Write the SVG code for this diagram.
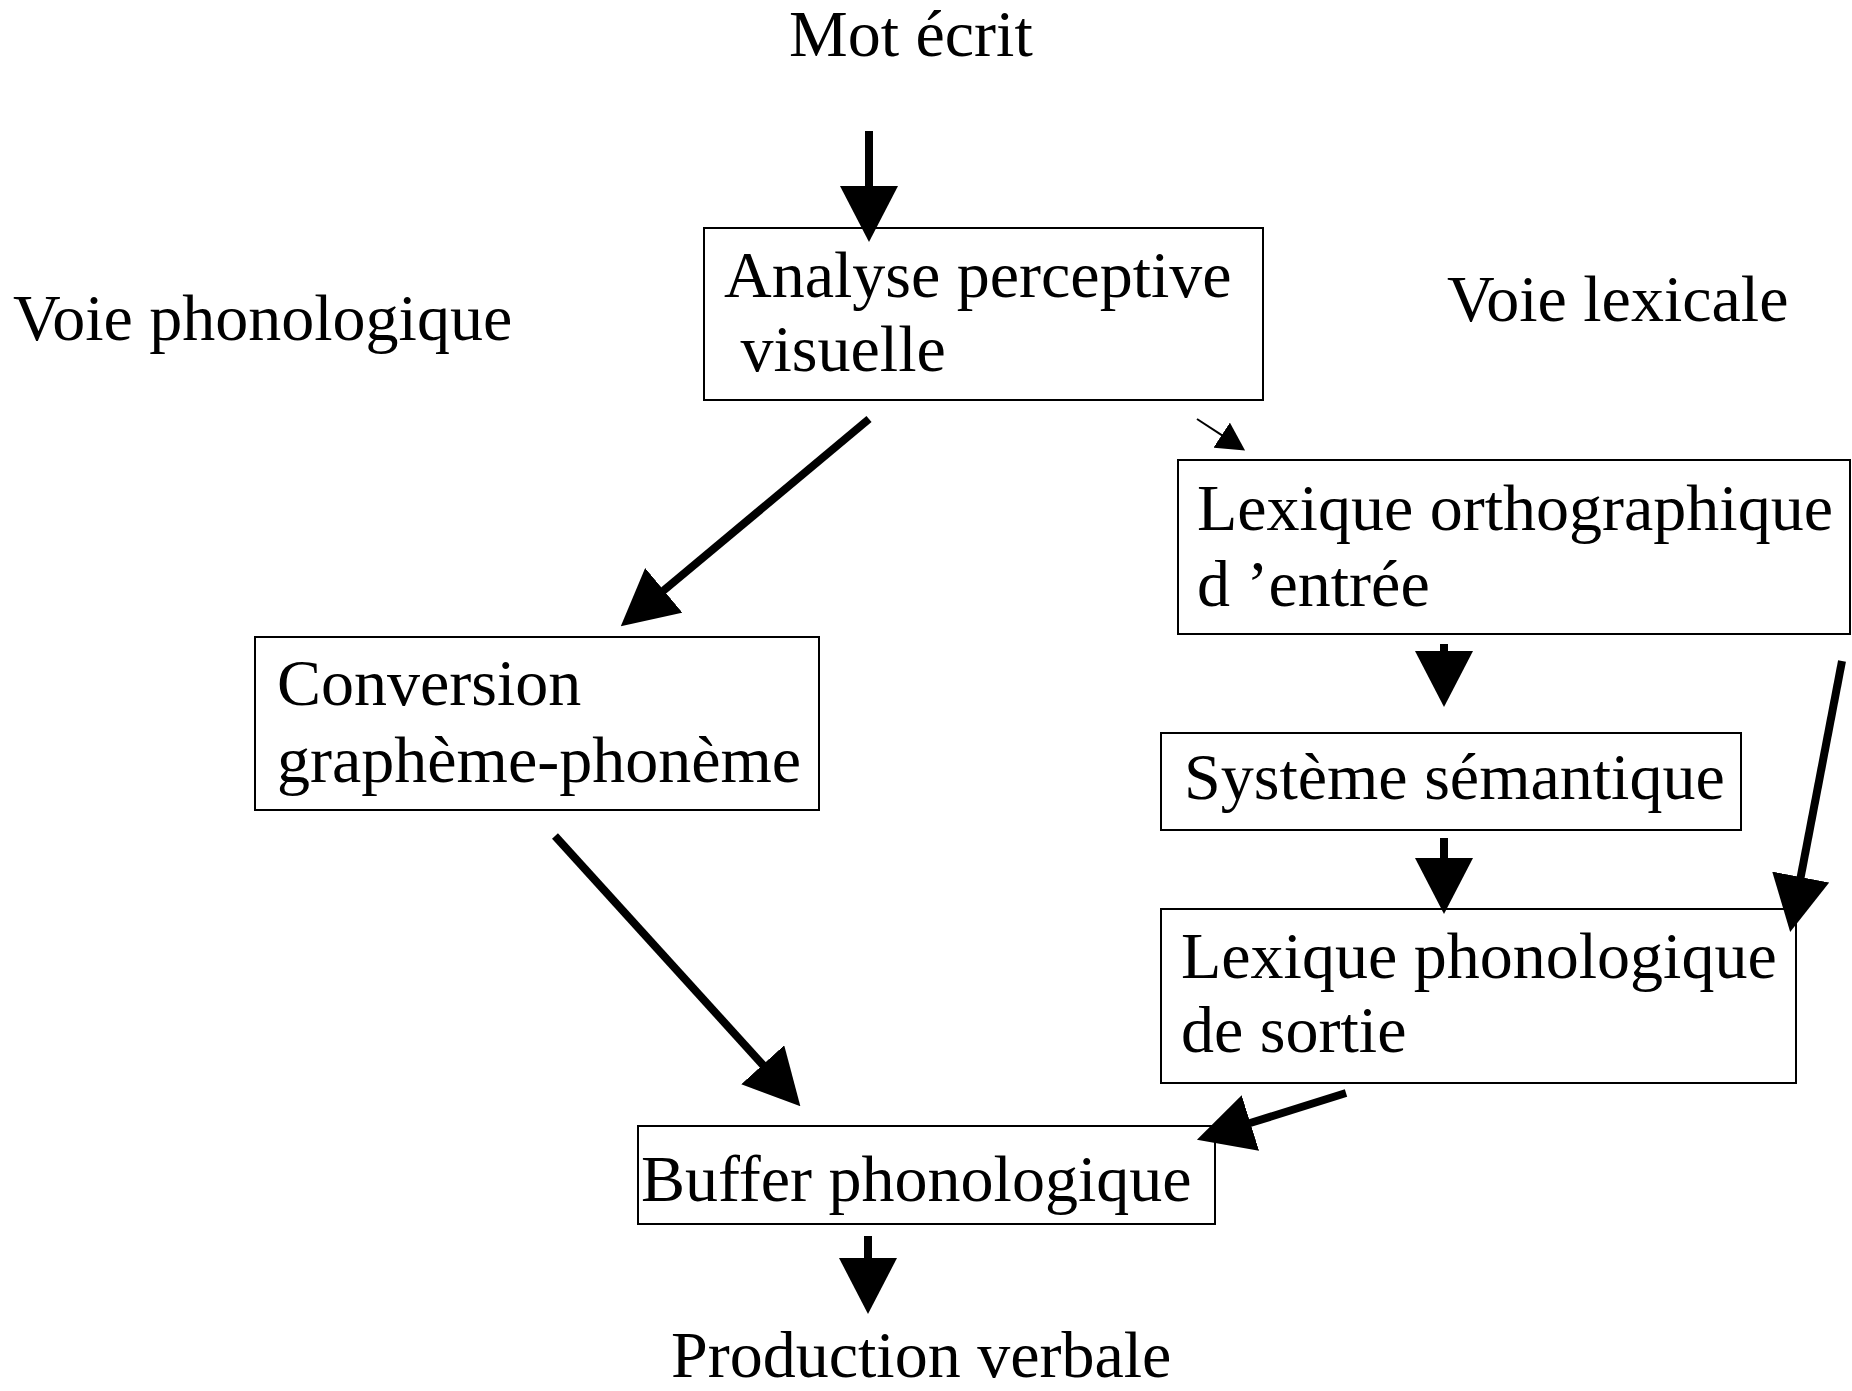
<svg xmlns="http://www.w3.org/2000/svg" width="1852" height="1391" viewBox="0 0 1852 1391">
<style>
text{font-family:"Liberation Serif","Times New Roman",serif;font-size:66px;fill:#000}
.box{fill:#fff;stroke:#000;stroke-width:2}
.arr{stroke:#000;stroke-width:8;fill:none}
.thin{stroke:#000;stroke-width:2;fill:none}
</style>
<defs>
<marker id="ah" markerUnits="userSpaceOnUse" viewBox="0 0 56 58" markerWidth="56" markerHeight="58" refX="1" refY="29" orient="auto"><path d="M0,0 L56,29 L0,58 Z" fill="#000"/></marker>
<marker id="ahs" markerUnits="userSpaceOnUse" viewBox="0 0 28 30" markerWidth="28" markerHeight="30" refX="1" refY="15" orient="auto"><path d="M0,0 L28,15 L0,30 Z" fill="#000"/></marker>
</defs>
<rect width="1852" height="1391" fill="#fff"/>
<g id="labels">
<text id="mot" x="789" y="56">Mot écrit</text>
<text id="voie-phono" x="13" y="340">Voie phonologique</text>
<text id="voie-lex" x="1447" y="321">Voie lexicale</text>
<text id="production" x="671" y="1377">Production verbale</text>
</g>
<g id="analyse"><rect class="box" x="704" y="228" width="559" height="172"/><text x="724" y="297">Analyse perceptive</text><text x="724" y="371" xml:space="preserve"> visuelle</text></g>
<g id="lexique-ortho"><rect class="box" x="1178" y="460" width="672" height="174"/><text x="1197" y="530">Lexique orthographique</text><text x="1197" y="606">d ’entrée</text></g>
<g id="conversion"><rect class="box" x="255" y="637" width="564" height="173"/><text x="277" y="705">Conversion</text><text x="277" y="782">graphème-phonème</text></g>
<g id="semantique"><rect class="box" x="1161" y="733" width="580" height="97"/><text x="1184" y="799">Système sémantique</text></g>
<g id="lexique-phono"><rect class="box" x="1161" y="909" width="635" height="174"/><text x="1181" y="978">Lexique phonologique</text><text x="1181" y="1052">de sortie</text></g>
<g id="buffer"><rect class="box" x="638" y="1126" width="577" height="98"/><text x="641" y="1201">Buffer phonologique</text></g>
<g id="connectors">
<line class="arr" x1="869" y1="131" x2="869" y2="187" marker-end="url(#ah)"/>
<line class="arr" x1="869" y1="419" x2="663" y2="591" marker-end="url(#ah)"/>
<line class="thin" x1="1197" y1="419" x2="1222.5" y2="435.7" marker-end="url(#ahs)"/>
<line class="arr" x1="555" y1="836" x2="763.4" y2="1065.5" marker-end="url(#ah)"/>
<line class="arr" x1="1444" y1="644" x2="1444" y2="652" marker-end="url(#ah)"/>
<line class="arr" x1="1444" y1="838" x2="1444" y2="859" marker-end="url(#ah)"/>
<line class="arr" x1="1842" y1="661" x2="1800.5" y2="878" marker-end="url(#ah)"/>
<line class="arr" x1="1346" y1="1093" x2="1249.4" y2="1123.3" marker-end="url(#ah)"/>
<line class="arr" x1="868" y1="1236" x2="868" y2="1259" marker-end="url(#ah)"/>
</g>
</svg>
